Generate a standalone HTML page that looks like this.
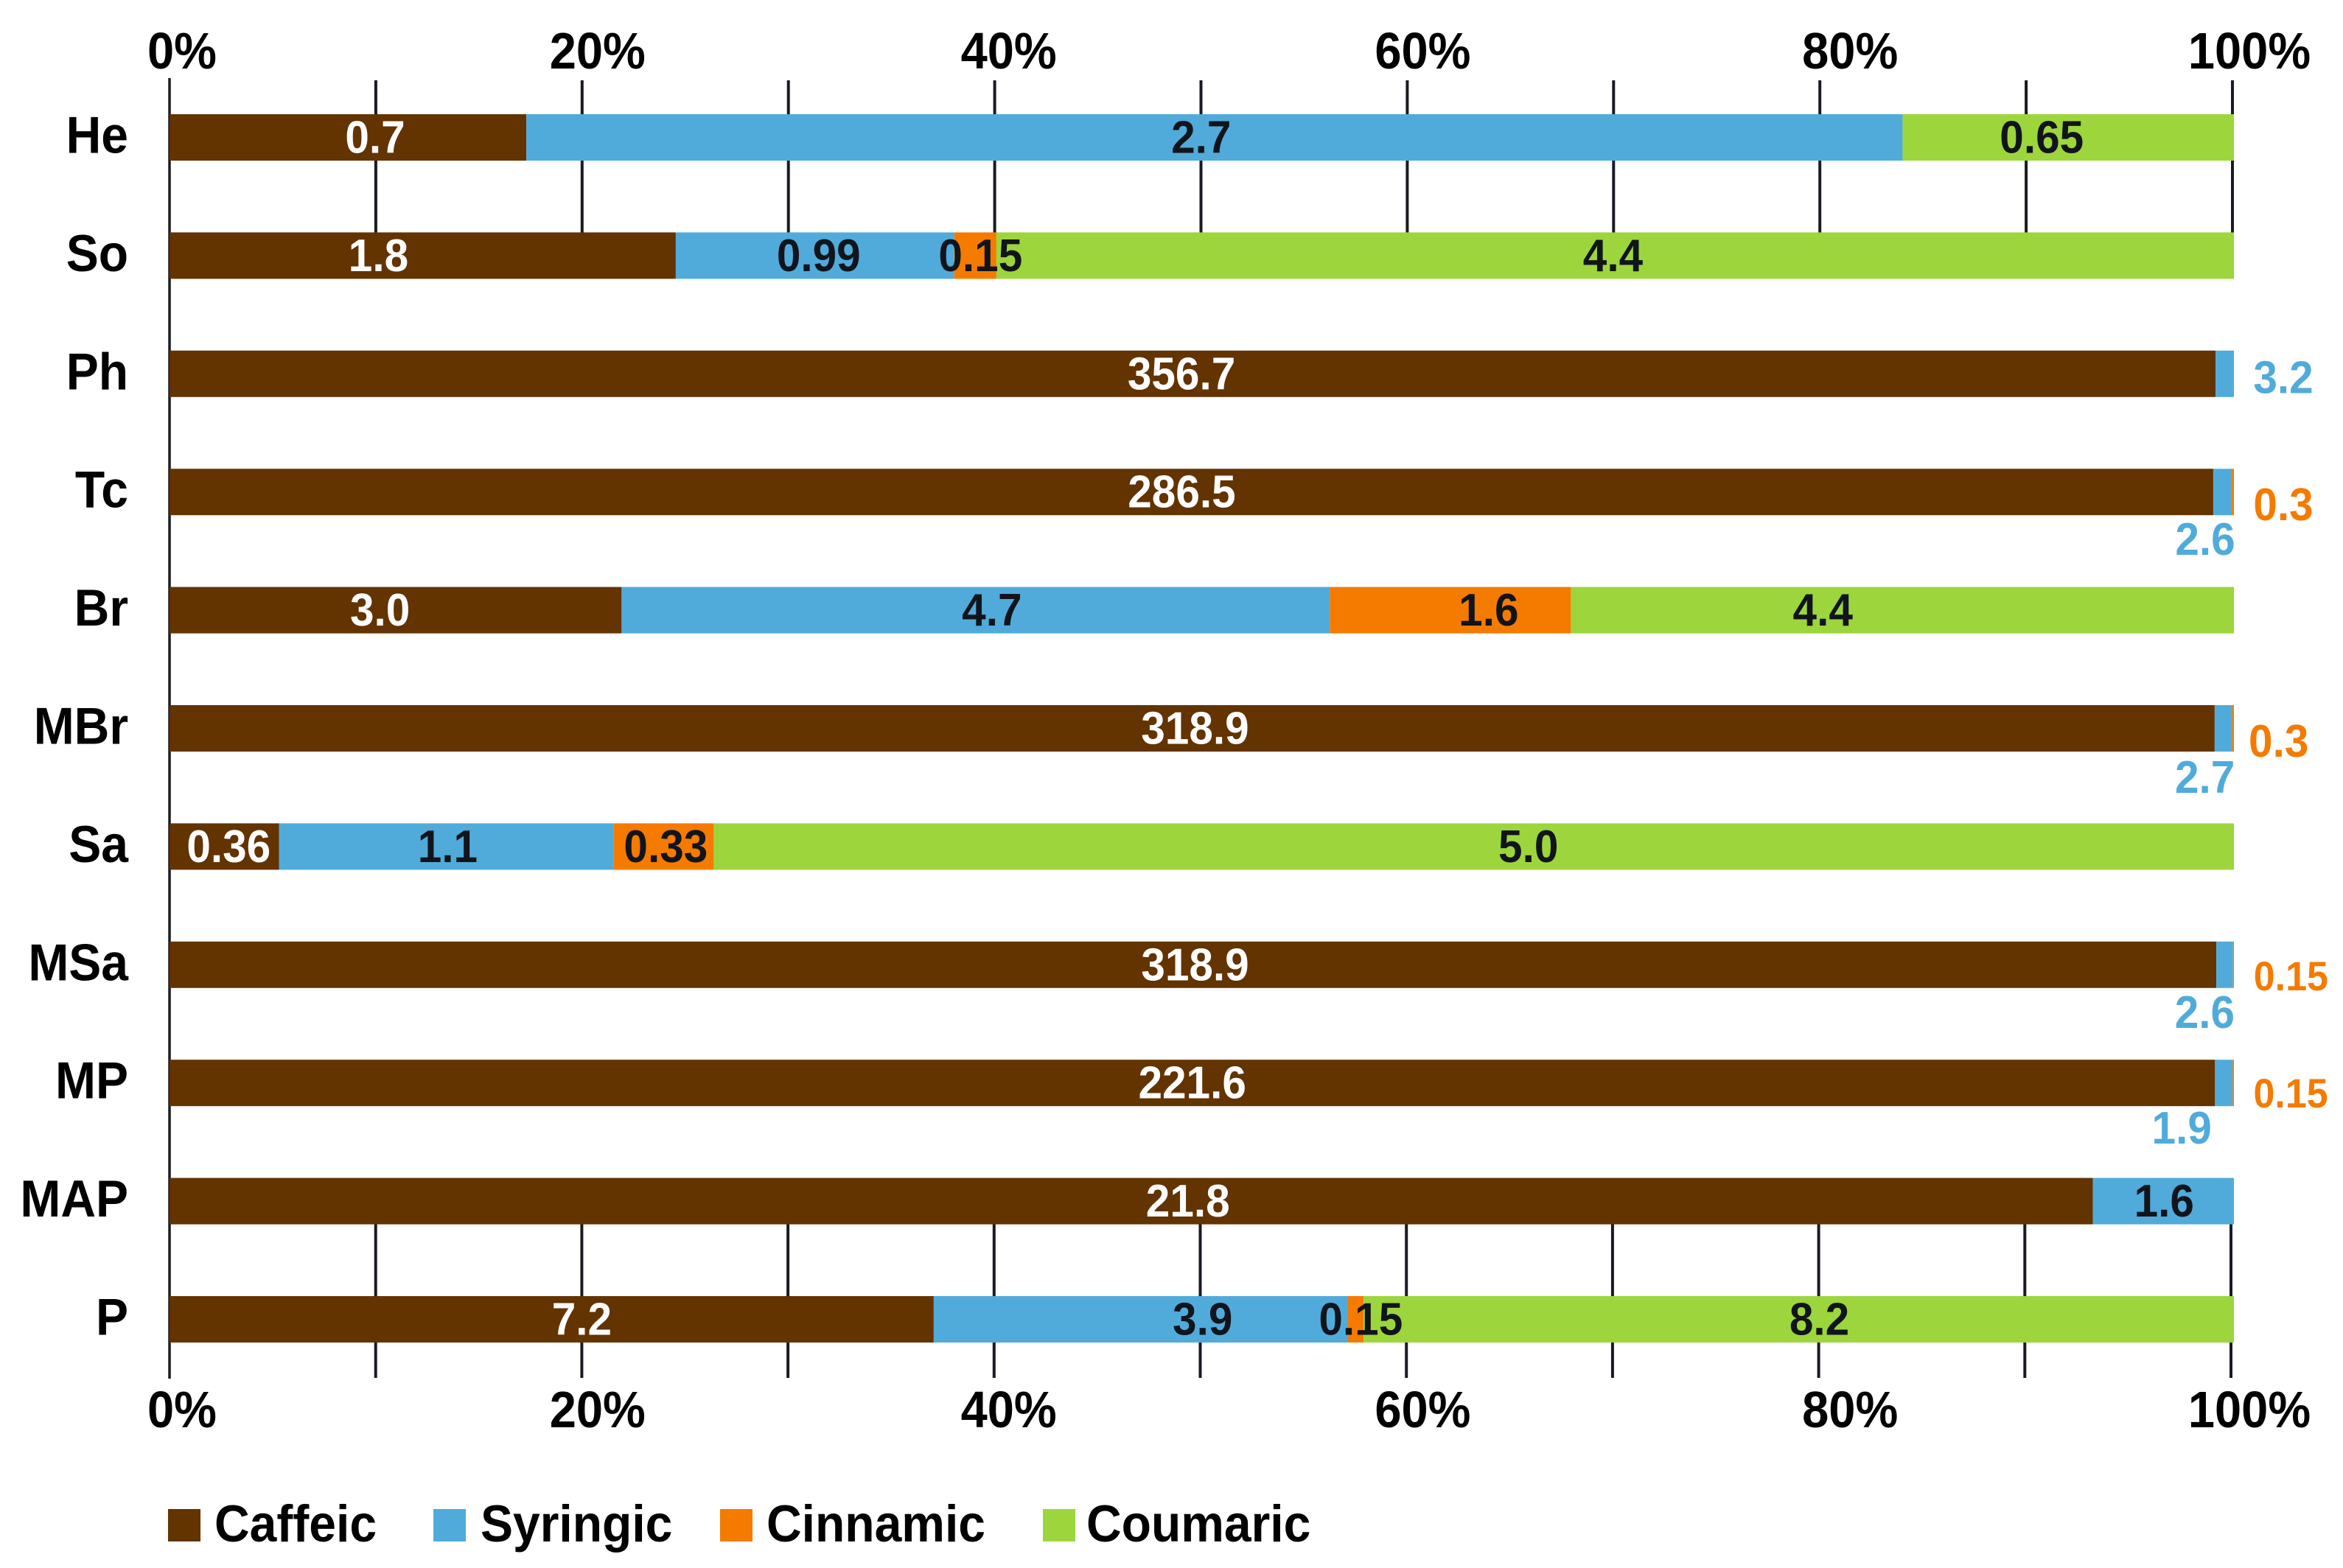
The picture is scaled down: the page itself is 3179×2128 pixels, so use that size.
<!DOCTYPE html>
<html>
<head>
<meta charset="utf-8">
<title>Phenolic acid composition chart</title>
<style>
html,body{margin:0;padding:0;background:#fff;width:3179px;height:2128px;overflow:hidden}
svg{display:block}
text{font-family:"Liberation Sans",Arial,sans-serif;font-weight:700}
</style>
</head>
<body>
<svg id="chart" xmlns="http://www.w3.org/2000/svg" width="3179" height="2128" viewBox="0 0 3179 2128">
<rect x="0" y="0" width="3179" height="2128" fill="#ffffff"></rect>
</svg>
<script>
const categories = ["He","So","Ph","Tc","Br","MBr","Sa","MSa","MP","MAP","P"];
const seriesNames = ["Caffeic","Syringic","Cinnamic","Coumaric"];
const caffeic  = [0.7,1.8,356.7,286.5,3.0,318.9,0.36,318.9,221.6,21.8,7.2];
const syringic = [2.7,0.99,3.2,2.6,4.7,2.7,1.1,2.6,1.9,1.6,3.9];
const cinnamic = [0,0.15,0,0.3,1.6,0.3,0.33,0.15,0.15,0,0.15];
const coumaric = [0.65,4.4,0,0,4.4,0,5.0,0,0,0,8.2];
const tickValues = [10,20,30,40,50,60,70,80,90,100];
const tickLabelValues = [0,20,40,60,80,100];

/* layout only */
const colors = ["#633300","#50abda","#f47b00","#9cd63c"];
const STRETCH = 1.07;
const barLeft = 230, barRight = 3031, barTop = 155, barPitch = 160.4, barH = 63;
const tickLabelShift = {0:17,20:21,40:19,60:21,80:41,100:23};
const labelNudge = {
  He:[[37,0],[-18,0],null,[-36,0]],
  So:[[-60,0],[5,0],[7,0],[-3,0]],
  Ph:[[-15,0],[79.5,5,1],null,null],
  Tc:[[-13,0],[-23.5,64.5,1],[68.5,17.5,1],null],
  Br:[[-21,0],[22,0],[52,0],[-108,0]],
  MBr:[[4,0],[-25,66.5,1],[62,17.5,1],null],
  Sa:[[6,0],[2,0],[3,0],[74,0]],
  MSa:[[3,0],[-27,64.5,1],[78,13.5,1,52],null],
  MP:[[0,0],[-57,61.5,1],[78,12.5,1,52],null],
  MAP:[[77,0],[1,0],null,null],
  P:[[41,0],[84,0],[7,0],[28,0]]
};

const svg = document.getElementById('chart');
const NS = 'http://www.w3.org/2000/svg';
const allSeries = [caffeic,syringic,cinnamic,coumaric];

function barX(f){ return barLeft + (barRight-barLeft)*f; }
function topTickX(v){ return 230 + (3029-230)*v/100; }
function bottomTickX(v){ return 230 + (3027-230)*v/100; }
function bandY(i){ return barTop + barPitch*i; }
function fmt(v){ return Number.isInteger(v) ? v.toFixed(1) : String(v); }

function addText(str,x,y,size,fill,anchor){
  const t = document.createElementNS(NS,'text');
  t.textContent = str;
  t.setAttribute('transform','translate('+x+' '+y+') scale(1 '+STRETCH+')');
  t.setAttribute('font-size',size);
  t.setAttribute('fill',fill);
  t.setAttribute('text-anchor',anchor||'middle');
  svg.appendChild(t);
  return t;
}
function addLine(x1,y1,x2,y2,w){
  const l = document.createElementNS(NS,'line');
  l.setAttribute('x1',x1);
  l.setAttribute('y1',y1);
  l.setAttribute('x2',x2);
  l.setAttribute('y2',y2);
  l.setAttribute('stroke','#1a1a24');
  l.setAttribute('stroke-width',w);
  svg.appendChild(l);
  return l;
}

/* axis and ticks */
const axisLine = addLine(230,106,230,1871,3.5);


tickValues.forEach(function(v){
  const a = addLine(topTickX(v),109,topTickX(v),318,4);
  
  
  const b = addLine(bottomTickX(v),1655,bottomTickX(v),1870,4);
  
  
});

/* bars */
categories.forEach(function(cat,i){
  const vals = allSeries.map(function(s){ return s[i]; });
  const total = vals.reduce(function(a,b){ return a+b; },0);
  let cum = 0;
  vals.forEach(function(v,k){
    if(!v) return;
    const x0 = barX(cum/total);
    const x1 = barX((cum+v)/total);
    cum += v;
    const r = document.createElementNS(NS,'rect');
    r.setAttribute('x',x0);
    r.setAttribute('y',bandY(i));
    r.setAttribute('width',x1-x0);
    r.setAttribute('height',barH);
    r.setAttribute('fill',colors[k]);
    
    
    svg.appendChild(r);
  });
});

/* value labels */
categories.forEach(function(cat,i){
  const vals = allSeries.map(function(s){ return s[i]; });
  const total = vals.reduce(function(a,b){ return a+b; },0);
  let cum = 0;
  vals.forEach(function(v,k){
    if(!v) return;
    const mid = barX((cum+v/2)/total);
    cum += v;
    const n = labelNudge[cat][k] || [0,0];
    const outside = n[2]===1;
    const fill = outside ? colors[k] : (k===0 ? '#ffffff' : '#12141c');
    const t = addText(fmt(v),mid+n[0],bandY(i)+barH/2+21+n[1],n[3]||58.5,fill);
    
    
  });
});

/* category labels */
categories.forEach(function(cat,i){
  const t = addText(cat,174,bandY(i)+barH/2+21,66,'#000000','end');
  
  
});

/* percent tick labels */
tickLabelValues.forEach(function(v){
  const a = addText(v+'%',topTickX(v)+tickLabelShift[v],93,65,'#000000');
  
  
  const b = addText(v+'%',topTickX(v)+tickLabelShift[v],1937,65,'#000000');
  
  
});

/* legend */
const legendSwatchX = [228,588,977,1415];
const legendTextX = [291,652,1040,1474];
seriesNames.forEach(function(name,k){
  const r = document.createElementNS(NS,'rect');
  r.setAttribute('x',legendSwatchX[k]);
  r.setAttribute('y',2048);
  r.setAttribute('width',44);
  r.setAttribute('height',44);
  r.setAttribute('fill',colors[k]);
  
  
  svg.appendChild(r);
  const t = addText(name,legendTextX[k],2092,66,'#000000','start');
  
  
});
</script>
</body>
</html>
